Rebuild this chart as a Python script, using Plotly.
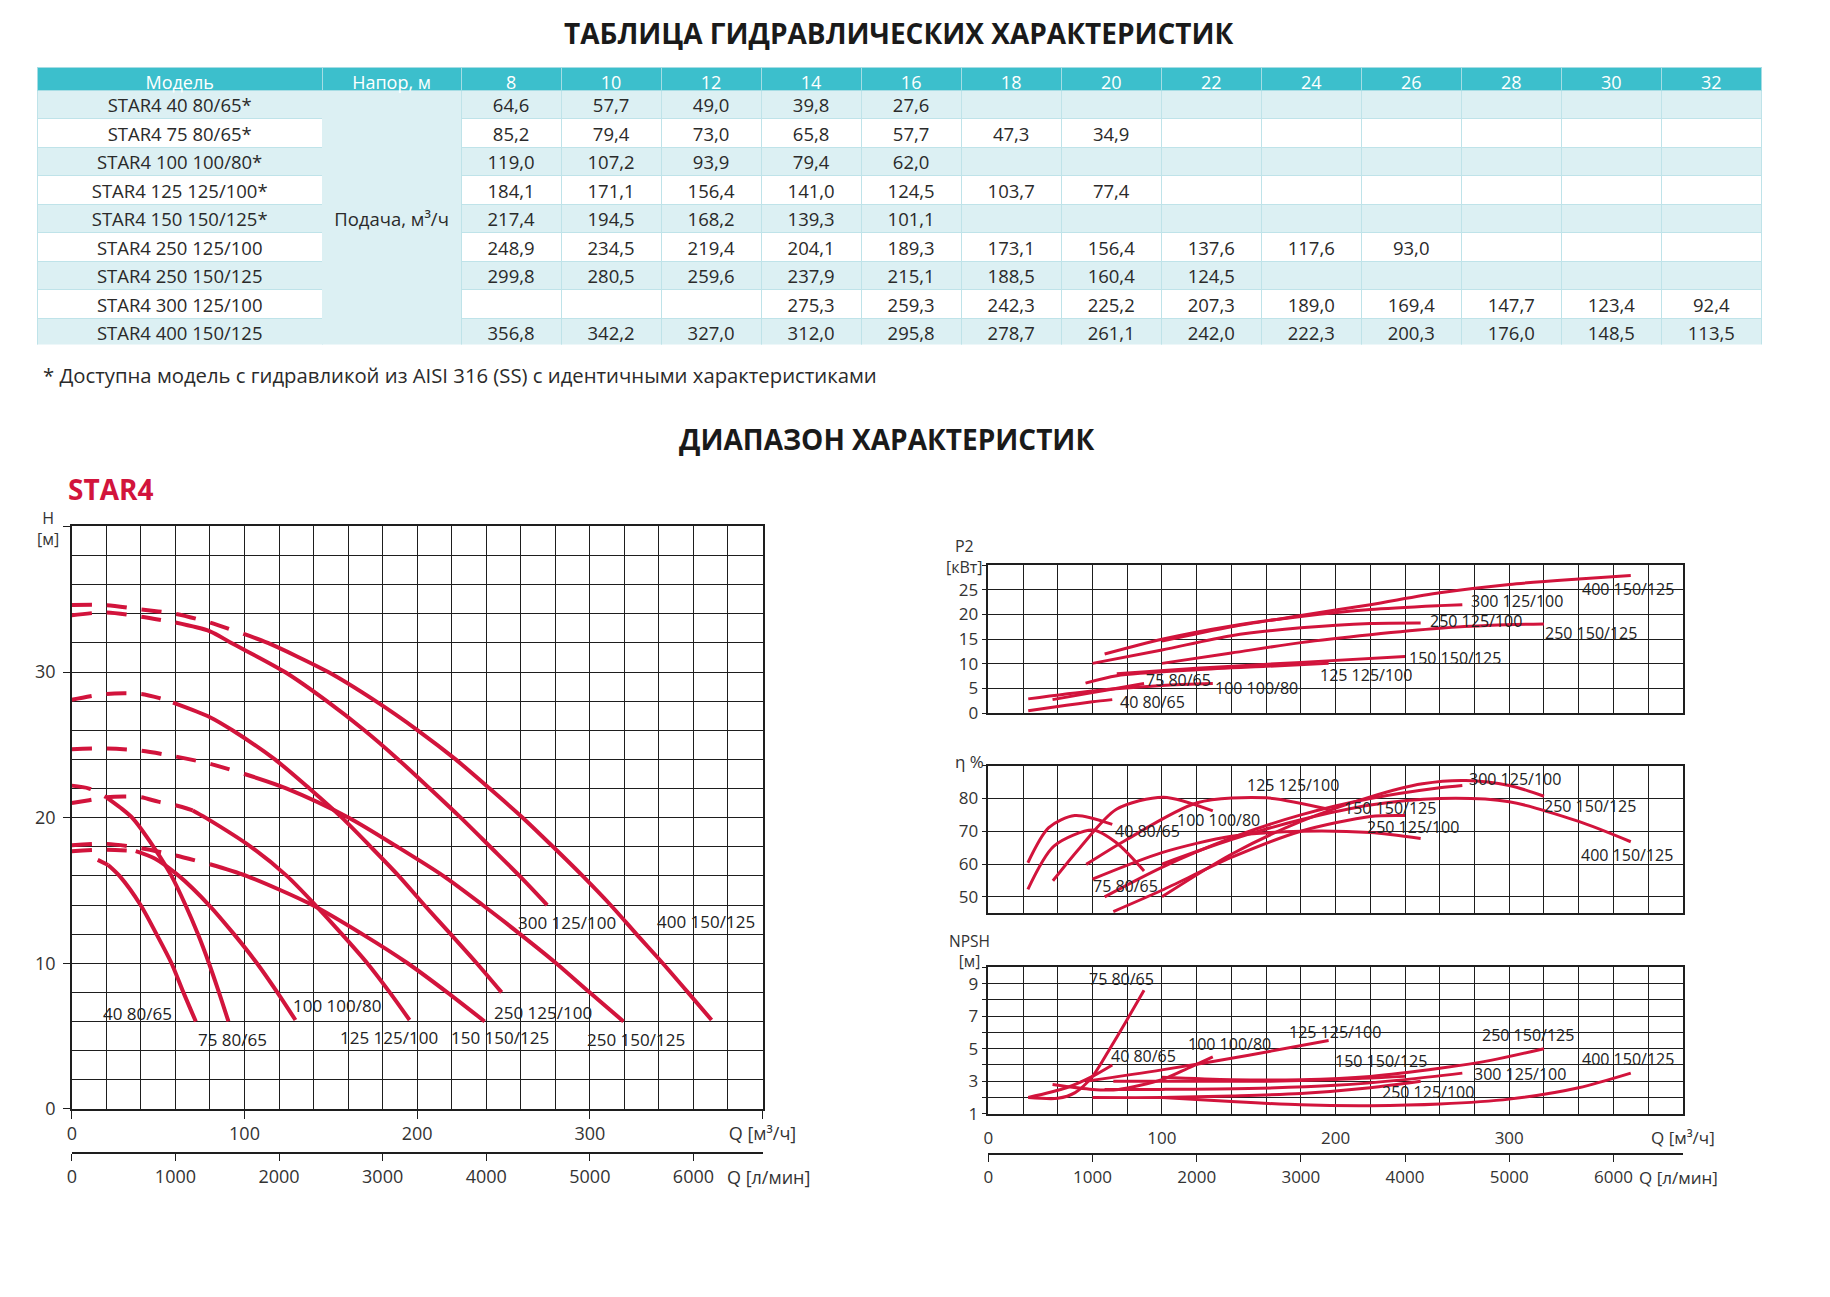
import plotly.graph_objects as go

W, H = 1830, 1297
def fx(p): return p / W
def fy(p): return 1 - p / H

RED = '#D2143C'
GRID = '#1e1e1e'
TXT = '#333333'
FONT = 'Open Sans, Noto Sans, DejaVu Sans, sans-serif'

# ---------------- table data ----------------
heads = [8, 10, 12, 14, 16, 18, 20, 22, 24, 26, 28, 30, 32]
models = ['STAR4 40 80/65*', 'STAR4 75 80/65*', 'STAR4 100 100/80*', 'STAR4 125 125/100*',
          'STAR4 150 150/125*', 'STAR4 250 125/100', 'STAR4 250 150/125', 'STAR4 300 125/100',
          'STAR4 400 150/125']
q_40_80 = [64.6, 57.7, 49.0, 39.8, 27.6, None, None, None, None, None, None, None, None]
q_75_80 = [85.2, 79.4, 73.0, 65.8, 57.7, 47.3, 34.9, None, None, None, None, None, None]
q_100_100 = [119.0, 107.2, 93.9, 79.4, 62.0, None, None, None, None, None, None, None, None]
q_125_125 = [184.1, 171.1, 156.4, 141.0, 124.5, 103.7, 77.4, None, None, None, None, None, None]
q_150_150 = [217.4, 194.5, 168.2, 139.3, 101.1, None, None, None, None, None, None, None, None]
q_250_125 = [248.9, 234.5, 219.4, 204.1, 189.3, 173.1, 156.4, 137.6, 117.6, 93.0, None, None, None]
q_250_150 = [299.8, 280.5, 259.6, 237.9, 215.1, 188.5, 160.4, 124.5, None, None, None, None, None]
q_300_125 = [None, None, None, 275.3, 259.3, 242.3, 225.2, 207.3, 189.0, 169.4, 147.7, 123.4, 92.4]
q_400_150 = [356.8, 342.2, 327.0, 312.0, 295.8, 278.7, 261.1, 242.0, 222.3, 200.3, 176.0, 148.5, 113.5]
table_rows = [q_40_80, q_75_80, q_100_100, q_125_125, q_150_150, q_250_125, q_250_150, q_300_125, q_400_150]
napor_label = 'Подача, м³/ч'

# ---------------- H(Q) curves (left chart) ----------------
names = ['40 80/65', '75 80/65', '100 100/80', '125 125/100', '150 150/125',
         '250 125/100', '250 150/125', '300 125/100', '400 150/125']

h_dash_q = {
    '40 80/65': [15, 21],
    '75 80/65': [0, 10, 20],
    '100 100/80': [0, 20, 37],
    '125 125/100': [0, 10, 20, 30, 40, 50, 60, 70],
    '150 150/125': [0, 20, 40, 60, 80],
    '250 125/100': [0, 20, 40, 51, 58.6],
    '250 150/125': [0, 20, 40, 60, 80, 100],
    '300 125/100': [0, 20, 40, 60],
    '400 150/125': [0, 20, 40, 60, 80, 100],
}
h_dash_h = {
    '40 80/65': [17.1, 16.75],
    '75 80/65': [22.2, 22.0, 21.4],
    '100 100/80': [17.7, 17.8, 17.7],
    '125 125/100': [21.0, 21.2, 21.4, 21.45, 21.4, 21.1, 20.85, 20.5],
    '150 150/125': [18.1, 18.2, 17.9, 17.4, 16.8],
    '250 125/100': [28.1, 28.5, 28.5, 28.2, 27.9],
    '250 150/125': [24.7, 24.75, 24.6, 24.2, 23.7, 23.0],
    '300 125/100': [33.9, 34.1, 33.8, 33.4],
    '400 150/125': [34.6, 34.6, 34.3, 34.0, 33.4, 32.6],
}
h_solid_q = {
    '40 80/65': [21, 27.6, 39.8, 49.0, 57.7, 64.6, 71.8],
    '75 80/65': [20, 28, 34.9, 47.3, 57.7, 65.8, 73.0, 79.4, 85.2, 90.7],
    '100 100/80': [37, 48, 62.0, 79.4, 93.9, 107.2, 119.0, 129.5],
    '125 125/100': [70, 77.4, 103.7, 124.5, 141.0, 156.4, 171.1, 184.1, 195.6],
    '150 150/125': [80, 101.1, 139.3, 168.2, 194.5, 217.4, 239.1],
    '250 125/100': [58.6, 80, 93.0, 117.6, 137.6, 156.4, 173.1, 189.3, 204.1, 219.4, 234.5, 248.9],
    '250 150/125': [100, 124.5, 160.4, 188.5, 215.1, 237.9, 259.6, 280.5, 299.8, 319.5],
    '300 125/100': [60, 80, 92.4, 123.4, 147.7, 169.4, 189.0, 207.3, 225.2, 242.3, 259.3, 275.3],
    '400 150/125': [100, 113.5, 148.5, 176.0, 200.3, 222.3, 242.0, 261.1, 278.7, 295.8, 312.0, 327.0, 342.2, 356.8, 370.5],
}
h_solid_h = {
    '40 80/65': [16.75, 16, 14, 12, 10, 8, 6],
    '75 80/65': [21.4, 20.7, 20, 18, 16, 14, 12, 10, 8, 6],
    '100 100/80': [17.7, 17.2, 16, 14, 12, 10, 8, 6.1],
    '125 125/100': [20.5, 20, 18, 16, 14, 12, 10, 8, 6.1],
    '150 150/125': [16.8, 16, 14, 12, 10, 8, 6],
    '250 125/100': [27.9, 26.9, 26, 24, 22, 20, 18, 16, 14, 12, 10, 8],
    '250 150/125': [23.0, 22, 20, 18, 16, 14, 12, 10, 8, 6],
    '300 125/100': [33.4, 32.8, 32, 30, 28, 26, 24, 22, 20, 18, 16, 14],
    '400 150/125': [32.6, 32, 30, 28, 26, 24, 22, 20, 18, 16, 14, 12, 10, 8, 6.1],
}
h_label_pos = {
    '40 80/65': (17.6, 6.57), '75 80/65': (72.2, 4.75), '100 100/80': (127.6, 7.09),
    '125 125/100': (155.0, 4.9), '150 150/125': (219.3, 4.93), '250 125/100': (244.2, 6.63),
    '250 150/125': (297.7, 4.77), '300 125/100': (258.0, 12.78), '400 150/125': (338.4, 12.87),
}

# ---------------- P2(Q) ----------------
p2_q = {
    '40 80/65': [23, 45, 60, 71.4], '75 80/65': [37, 60, 75, 89.7],
    '100 100/80': [23, 60, 100, 129.3], '125 125/100': [56, 74, 120, 160, 196],
    '150 150/125': [74, 120, 180, 240], '250 125/100': [60, 100, 140, 180, 220, 249],
    '250 150/125': [100, 140, 180, 220, 260, 290, 320],
    '300 125/100': [67, 100, 140, 180, 220, 260, 273],
    '400 150/125': [100, 140, 180, 220, 260, 300, 340, 370],
}
p2_v = {
    '40 80/65': [0.5, 1.6, 2.3, 2.75], '75 80/65': [2.75, 4.2, 5.1, 6.0],
    '100 100/80': [2.9, 4.5, 5.6, 6.0], '125 125/100': [6.1, 7.6, 8.8, 9.5, 10.1],
    '150 150/125': [8.0, 9.1, 10.3, 11.5], '250 125/100': [10.1, 12.8, 15.7, 17.3, 18.2, 18.3],
    '250 150/125': [10.1, 12.2, 14.3, 15.9, 17.2, 17.8, 18.1],
    '300 125/100': [12.0, 15.0, 17.7, 19.6, 21.0, 21.8, 22.0],
    '400 150/125': [14.6, 17.5, 19.8, 22.0, 24.4, 26.1, 27.2, 27.9],
}
p2_label_pos = {
    '40 80/65': (75.3, 2.35), '75 80/65': (90.3, 6.8), '100 100/80': (130.2, 5.2),
    '125 125/100': (190.7, 7.8), '150 150/125': (241.7, 11.2), '250 125/100': (253.7, 18.6),
    '250 150/125': (320.3, 16.3), '300 125/100': (277.5, 22.7), '400 150/125': (341.4, 25.1),
}

# ---------------- efficiency ----------------
eta_q = {
    '40 80/65': [22.8, 34.8, 49.8, 71.4], '75 80/65': [22.8, 37.8, 60.3, 73.8, 89.7],
    '100 100/80': [37.2, 52.8, 73.8, 100.8, 129.3], '125 125/100': [56.4, 79.8, 120.3, 160.1, 196.1],
    '150 150/125': [72, 100, 140, 180, 220, 240], '250 125/100': [60, 100, 140, 180, 220, 249],
    '250 150/125': [100, 140, 180, 220, 250, 275, 300, 320],
    '300 125/100': [67, 100, 140, 180, 220, 260, 273],
    '400 150/125': [100, 140, 180, 220, 260, 300, 340, 370],
}
eta_v = {
    '40 80/65': [60.4, 71.1, 74.8, 72.1], '75 80/65': [52.3, 65.5, 70.4, 66.5, 57.9],
    '100 100/80': [54.9, 65.0, 76.7, 80.4, 76.2], '125 125/100': [59.9, 67.5, 78.7, 80.2, 76.7],
    '150 150/125': [45.5, 52, 62, 70, 74.5, 74.8], '250 125/100': [55.4, 63.5, 68.5, 70, 69.6, 67.8],
    '250 150/125': [50, 63, 73, 80.5, 84.5, 85.5, 84, 80.7],
    '300 125/100': [50, 59, 68, 75, 80, 83.3, 84],
    '400 150/125': [60, 67.5, 73.5, 78, 80, 79, 73, 66.8],
}
eta_label_pos = {
    '40 80/65': (72.3, 70.1), '75 80/65': (59.7, 53.4), '100 100/80': (108.3, 73.4),
    '125 125/100': (148.2, 84.0), '150 150/125': (204.2, 77.2), '250 125/100': (217.7, 71.3),
    '250 150/125': (319.7, 77.7), '300 125/100': (276.2, 86.0), '400 150/125': (340.7, 62.7),
}

# ---------------- NPSH ----------------
npsh_q = {
    '40 80/65': [23, 45, 60, 71.4], '75 80/65': [23, 40, 50, 60, 70, 80, 89.7],
    '100 100/80': [37, 60, 75, 100, 115, 129.3], '125 125/100': [56, 100, 150, 196],
    '150 150/125': [72, 120, 160, 200, 240], '250 125/100': [60, 100, 140, 180, 220, 249],
    '250 150/125': [100, 140, 180, 220, 260, 290, 320],
    '300 125/100': [67, 100, 150, 200, 240, 273],
    '400 150/125': [100, 140, 180, 220, 260, 300, 340, 370],
}
npsh_v = {
    '40 80/65': [2.0, 2.6, 3.3, 4.0], '75 80/65': [2.0, 1.95, 2.3, 3.3, 5.0, 6.8, 8.6],
    '100 100/80': [2.8, 2.5, 2.5, 3.1, 3.8, 4.5], '125 125/100': [3.0, 3.7, 4.6, 5.5],
    '150 150/125': [3.0, 3.0, 3.0, 3.1, 3.3], '250 125/100': [2.0, 2.0, 2.1, 2.25, 2.6, 3.0],
    '250 150/125': [3.25, 3.1, 3.1, 3.3, 3.8, 4.3, 5.0],
    '300 125/100': [2.5, 2.5, 2.55, 2.75, 3.1, 3.5],
    '400 150/125': [2.0, 1.75, 1.55, 1.5, 1.6, 1.9, 2.6, 3.5],
}
npsh_label_pos = {
    '40 80/65': (70.2, 4.54), '75 80/65': (57.3, 9.28), '100 100/80': (114.3, 5.3),
    '125 125/100': (172.7, 6.05), '150 150/125': (199.1, 4.23), '250 125/100': (226.1, 2.35),
    '250 150/125': (283.7, 5.85), '300 125/100': (279.2, 3.46), '400 150/125': (341.3, 4.37),
}

q_ticks = [0, 100, 200, 300, 400]
q_ticktext = ['0', '100', '200', '300', 'Q [м³/ч]']
lmin_ticks = [0, 1000, 2000, 3000, 4000, 5000, 6000]
Q_MAX = 400
LMIN_MAX = Q_MAX * 1000 / 60

fig = go.Figure()

# ---------------- table ----------------
def fmt(v):
    return '' if v is None else f'{v:.1f}'.replace('.', ',')

LIGHT = '#dcf0f3'
col_values = [models, ['', '', '', '', napor_label, '', '', '', '']]
for i in range(len(heads)):
    col_values.append([fmt(r[i]) for r in table_rows])
row_fill = [LIGHT if k % 2 == 0 else 'white' for k in range(len(models))]
fills = [row_fill, [LIGHT] * len(models)] + [row_fill] * len(heads)
lines = [['#bfe3e9'] * len(models), [LIGHT] * len(models)] + [['#bfe3e9'] * len(models)] * len(heads)

fig.add_trace(go.Table(
    domain=dict(x=[fx(33), fx(1795)], y=[fy(348), fy(68)]),
    columnwidth=[291, 142] + [102.2] * len(heads),
    header=dict(values=['Модель', 'Напор, м'] + [str(h) for h in heads],
                fill_color='#3cbfcc', line=dict(color='#a6dde4', width=1),
                font=dict(family=FONT, size=18, color='white'), height=23, align='center'),
    cells=dict(values=col_values, fill_color=fills, line=dict(color=lines, width=1),
               font=dict(family=FONT, size=18.5, color='#2a2a2a'), height=28.5, align='center'),
))

# ---------------- curves ----------------
for n in names:
    fig.add_trace(go.Scatter(x=h_dash_q[n], y=h_dash_h[n], mode='lines', xaxis='x', yaxis='y',
                             line=dict(color=RED, width=4, dash='20px,15px', shape='spline', smoothing=0.8),
                             showlegend=False, hoverinfo='skip'))
    fig.add_trace(go.Scatter(x=h_solid_q[n], y=h_solid_h[n], mode='lines', xaxis='x', yaxis='y',
                             line=dict(color=RED, width=4, shape='spline', smoothing=0.8),
                             showlegend=False, hoverinfo='skip'))
    fig.add_trace(go.Scatter(x=p2_q[n], y=p2_v[n], mode='lines', xaxis='x3', yaxis='y3',
                             line=dict(color=RED, width=3, shape='spline', smoothing=0.8),
                             showlegend=False, hoverinfo='skip'))
    fig.add_trace(go.Scatter(x=eta_q[n], y=eta_v[n], mode='lines', xaxis='x4', yaxis='y4',
                             line=dict(color=RED, width=3, shape='spline', smoothing=0.8),
                             showlegend=False, hoverinfo='skip'))
    fig.add_trace(go.Scatter(x=npsh_q[n], y=npsh_v[n], mode='lines', xaxis='x5', yaxis='y5',
                             line=dict(color=RED, width=3, shape='spline', smoothing=0.8),
                             showlegend=False, hoverinfo='skip'))

# carriers for the secondary l/min axes
fig.add_trace(go.Scatter(x=[0, LMIN_MAX], y=[None, None], xaxis='x2', yaxis='y', mode='lines',
                         showlegend=False, hoverinfo='skip'))
fig.add_trace(go.Scatter(x=[0, LMIN_MAX], y=[None, None], xaxis='x6', yaxis='y5', mode='lines',
                         showlegend=False, hoverinfo='skip'))

# ---------------- axes ----------------
def grid_x(domain, anchor, labels, size=18, ticks=''):
    return dict(domain=domain, anchor=anchor, range=[0, Q_MAX], tickmode='array', tickvals=q_ticks,
                ticktext=q_ticktext, showticklabels=labels, ticks=ticks, ticklen=8, tickcolor=GRID,
                showgrid=True, gridcolor=GRID, gridwidth=1,
                minor=dict(tickmode='linear', tick0=0, dtick=20, showgrid=True, gridcolor=GRID, gridwidth=1),
                showline=True, linecolor=GRID, linewidth=1.5, mirror=True, zeroline=False,
                tickfont=dict(family=FONT, size=size, color=TXT), fixedrange=True)

layout_axes = dict(
    xaxis=grid_x([fx(68.3), fx(774)], 'y', True, 18, 'outside'),
    yaxis=dict(domain=[fy(1118.3), fy(531)], anchor='x', range=[0, 40], tickmode='array',
               tickvals=[0, 10, 20, 30, 40], ticktext=['0', '10', '20', '30', ''],
               ticks='outside', ticklen=7, tickcolor=GRID, ticklabelstandoff=4,
               showgrid=True, gridcolor=GRID, gridwidth=1,
               minor=dict(tickmode='linear', tick0=0, dtick=2, showgrid=True, gridcolor=GRID, gridwidth=1),
               showline=True, linecolor=GRID, linewidth=1.5, mirror=True, zeroline=False,
               tickfont=dict(family=FONT, size=18, color=TXT)),
    xaxis2=dict(overlaying='x', anchor='free', position=fy(1163.3), range=[0, LMIN_MAX],
                tickmode='array', tickvals=lmin_ticks, ticks='outside', ticklen=7, tickcolor=GRID,
                showline=True, linecolor=GRID, linewidth=1.5, showgrid=False, zeroline=False, side='bottom',
                tickfont=dict(family=FONT, size=18, color=TXT)),
    xaxis3=grid_x([fx(1004.7), fx(1714.4)], 'y3', False),
    yaxis3=dict(domain=[fy(719.3), fy(570)], anchor='x3', range=[0, 30], tickmode='array',
                tickvals=[0, 5, 10, 15, 20, 25, 30], ticktext=['0', '5', '10', '15', '20', '25', ''],
                ticks='outside', ticklen=5, tickcolor=GRID,
                showgrid=True, gridcolor=GRID, gridwidth=1,
                showline=True, linecolor=GRID, linewidth=1.5, mirror=True, zeroline=False,
                tickfont=dict(family=FONT, size=17, color=TXT)),
    xaxis4=grid_x([fx(1004.7), fx(1714.4)], 'y4', False),
    yaxis4=dict(domain=[fy(921), fy(772.3)], anchor='x4', range=[45, 90], tickmode='array',
                tickvals=[50, 60, 70, 80, 90], ticktext=['50', '60', '70', '80', ''],
                ticks='outside', ticklen=5, tickcolor=GRID,
                showgrid=True, gridcolor=GRID, gridwidth=1,
                showline=True, linecolor=GRID, linewidth=1.5, mirror=True, zeroline=False,
                tickfont=dict(family=FONT, size=17, color=TXT)),
    xaxis5=grid_x([fx(1004.7), fx(1714.4)], 'y5', True, 17),
    yaxis5=dict(domain=[fy(1123.3), fy(975.7)], anchor='x5', range=[1, 10], tickmode='array',
                tickvals=[1, 2, 3, 4, 5, 6, 7, 8, 9, 10],
                ticktext=['1', '', '3', '', '5', '', '7', '', '9', ''],
                ticks='outside', ticklen=5, tickcolor=GRID,
                showgrid=True, gridcolor=GRID, gridwidth=1,
                showline=True, linecolor=GRID, linewidth=1.5, mirror=True, zeroline=False,
                tickfont=dict(family=FONT, size=17, color=TXT)),
    xaxis6=dict(overlaying='x5', anchor='free', position=fy(1164.3), range=[0, LMIN_MAX],
                tickmode='array', tickvals=lmin_ticks, ticks='outside', ticklen=7, tickcolor=GRID,
                showline=True, linecolor=GRID, linewidth=1.5, showgrid=False, zeroline=False, side='bottom',
                tickfont=dict(family=FONT, size=17, color=TXT)),
)
layout_axes['xaxis5']['ticklabelstandoff'] = 8

# ---------------- annotations ----------------
ann = []
def paper_text(text, x, y, size, color=TXT, xanchor='center', bold=False):
    ann.append(dict(text=f'<b>{text}</b>' if bold else text, x=fx(x), y=fy(y), xref='paper', yref='paper',
                    xanchor=xanchor, yanchor='middle', showarrow=False, borderpad=0,
                    font=dict(family=FONT, size=size, color=color)))

paper_text('ТАБЛИЦА ГИДРАВЛИЧЕСКИХ ХАРАКТЕРИСТИК', 913, 33, 28, '#1a1a1a', bold=True)
paper_text('* Доступна модель с гидравликой из AISI 316 (SS) с идентичными характеристиками', 38, 378, 20.3,
           '#2a2a2a', xanchor='left')
paper_text('ДИАПАЗОН ХАРАКТЕРИСТИК', 901, 443, 28, '#1a1a1a', bold=True)
paper_text('STAR4', 63, 493, 28, RED, xanchor='left', bold=True)
paper_text('H<br>[м]', 44, 533, 16)
paper_text('Q [л/мин]', 737, 1187, 18, xanchor='left')
paper_text('P2<br>[кВт]', 980, 561, 16)
paper_text('η %', 986, 768, 17)
paper_text('NPSH<br>[м]', 986, 959, 15.5)
paper_text('Q [л/мин]', 1669, 1188, 17, xanchor='left')

def curve_labels(pos, xr, yr, size):
    for n in names:
        qx, vy = pos[n]
        ann.append(dict(text=n, x=qx, y=vy, xref=xr, yref=yr, xanchor='left', yanchor='middle',
                        showarrow=False, borderpad=0, font=dict(family=FONT, size=size, color='#222222')))

curve_labels(h_label_pos, 'x', 'y', 17)
curve_labels(p2_label_pos, 'x3', 'y3', 16)
curve_labels(eta_label_pos, 'x4', 'y4', 16)
curve_labels(npsh_label_pos, 'x5', 'y5', 16)

fig.update_layout(width=W, height=H, margin=dict(l=0, r=0, t=0, b=0), paper_bgcolor='white',
                  plot_bgcolor='white', showlegend=False, annotations=ann,
                  font=dict(family=FONT, color=TXT), **layout_axes)

fig.write_html('out.html', config={'displayModeBar': False},
               post_script="document.body.style.margin='0';document.body.style.overflow='hidden';")
